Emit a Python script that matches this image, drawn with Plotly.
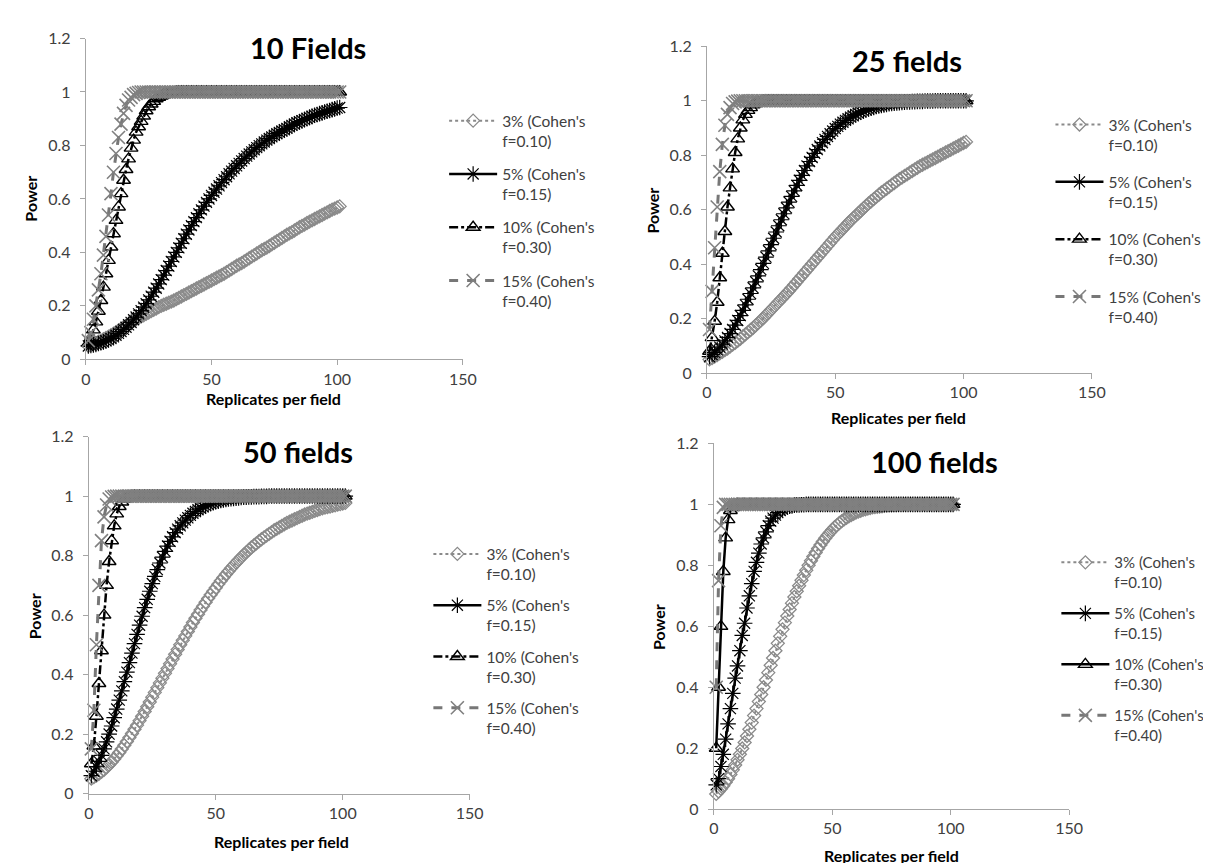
import plotly.graph_objects as go

# ---------------- data ----------------
X = list(range(1, 102))  # replicates per field
SERIES = ["3% (Cohen's<br>f=0.10)", "5% (Cohen's<br>f=0.15)",
          "10% (Cohen's<br>f=0.30)", "15% (Cohen's<br>f=0.40)"]
TITLES = ["10 Fields", "25 fields", "50 fields", "100 fields"]
X_TICKS = [0, 50, 100, 150]
Y_TICKS = [0, 0.2, 0.4, 0.6, 0.8, 1, 1.2]
Y_TICK_TEXT = ["0", "0.2", "0.4", "0.6", "0.8", "1", "1.2"]

# 10 fields
F10_3 = [0.050, 0.053, 0.057, 0.061, 0.066, 0.070, 0.075, 0.080, 0.085, 0.090,
         0.096, 0.102, 0.108, 0.114, 0.120, 0.126, 0.132, 0.138, 0.144, 0.150,
         0.155, 0.160, 0.165, 0.170, 0.175, 0.180, 0.185, 0.190, 0.195, 0.200,
         0.204, 0.208, 0.212, 0.216, 0.220, 0.225, 0.230, 0.235, 0.240, 0.245,
         0.250, 0.255, 0.260, 0.265, 0.270, 0.275, 0.280, 0.285, 0.290, 0.295,
         0.300, 0.305, 0.310, 0.315, 0.320, 0.326, 0.332, 0.338, 0.344, 0.350,
         0.355, 0.360, 0.366, 0.372, 0.378, 0.384, 0.390, 0.396, 0.402, 0.408,
         0.413, 0.418, 0.424, 0.430, 0.436, 0.442, 0.448, 0.454, 0.460, 0.466,
         0.471, 0.476, 0.482, 0.488, 0.494, 0.499, 0.504, 0.510, 0.515, 0.520,
         0.525, 0.530, 0.535, 0.540, 0.545, 0.550, 0.555, 0.560, 0.564, 0.568,
         0.572]
F10_5 = [0.050, 0.052, 0.054, 0.056, 0.059, 0.062, 0.065, 0.069, 0.073, 0.078,
         0.084, 0.090, 0.097, 0.104, 0.112, 0.120, 0.129, 0.138, 0.148, 0.158,
         0.170, 0.182, 0.195, 0.208, 0.222, 0.236, 0.251, 0.266, 0.282, 0.298,
         0.315, 0.332, 0.349, 0.366, 0.383, 0.400, 0.417, 0.434, 0.451, 0.468,
         0.484, 0.500, 0.515, 0.530, 0.545, 0.559, 0.573, 0.587, 0.600, 0.613,
         0.625, 0.637, 0.649, 0.661, 0.672, 0.683, 0.694, 0.704, 0.714, 0.724,
         0.733, 0.742, 0.751, 0.760, 0.768, 0.776, 0.784, 0.792, 0.799, 0.806,
         0.813, 0.820, 0.826, 0.832, 0.838, 0.844, 0.849, 0.854, 0.859, 0.864,
         0.870, 0.875, 0.880, 0.885, 0.889, 0.893, 0.897, 0.901, 0.905, 0.909,
         0.913, 0.916, 0.919, 0.922, 0.925, 0.928, 0.931, 0.934, 0.937, 0.940,
         0.942]
F10_10 = [0.06, 0.08, 0.11, 0.14, 0.18, 0.22, 0.27, 0.32, 0.37, 0.42,
          0.47, 0.52, 0.57, 0.62, 0.67, 0.71, 0.75, 0.79, 0.82, 0.85,
          0.87, 0.89, 0.91, 0.93, 0.945, 0.955, 0.965, 0.975, 0.98, 0.985,
          0.99, 0.993, 0.995, 0.997, 0.998, 0.999, 1.0, 1.0, 1.0, 1.0,
          1.0, 1.0, 1.0, 1.0, 1.0, 1.0, 1.0, 1.0, 1.0, 1.0,
          1.0, 1.0, 1.0, 1.0, 1.0, 1.0, 1.0, 1.0, 1.0, 1.0,
          1.0, 1.0, 1.0, 1.0, 1.0, 1.0, 1.0, 1.0, 1.0, 1.0,
          1.0, 1.0, 1.0, 1.0, 1.0, 1.0, 1.0, 1.0, 1.0, 1.0,
          1.0, 1.0, 1.0, 1.0, 1.0, 1.0, 1.0, 1.0, 1.0, 1.0,
          1.0, 1.0, 1.0, 1.0, 1.0, 1.0, 1.0, 1.0, 1.0, 1.0,
          1.0]
F10_15 = [0.07, 0.10, 0.15, 0.20, 0.26, 0.32, 0.39, 0.46, 0.54, 0.62,
          0.70, 0.77, 0.83, 0.88, 0.92, 0.95, 0.97, 0.98, 0.99, 0.995,
          0.998, 1.0, 1.0, 1.0, 1.0, 1.0, 1.0, 1.0, 1.0, 1.0,
          1.0, 1.0, 1.0, 1.0, 1.0, 1.0, 1.0, 1.0, 1.0, 1.0,
          1.0, 1.0, 1.0, 1.0, 1.0, 1.0, 1.0, 1.0, 1.0, 1.0,
          1.0, 1.0, 1.0, 1.0, 1.0, 1.0, 1.0, 1.0, 1.0, 1.0,
          1.0, 1.0, 1.0, 1.0, 1.0, 1.0, 1.0, 1.0, 1.0, 1.0,
          1.0, 1.0, 1.0, 1.0, 1.0, 1.0, 1.0, 1.0, 1.0, 1.0,
          1.0, 1.0, 1.0, 1.0, 1.0, 1.0, 1.0, 1.0, 1.0, 1.0,
          1.0, 1.0, 1.0, 1.0, 1.0, 1.0, 1.0, 1.0, 1.0, 1.0,
          1.0]

# 25 fields
F25_3 = [0.050, 0.055, 0.060, 0.066, 0.072, 0.078, 0.084, 0.090, 0.097, 0.104,
         0.111, 0.118, 0.126, 0.134, 0.142, 0.150, 0.158, 0.166, 0.175, 0.184,
         0.193, 0.202, 0.212, 0.222, 0.232, 0.242, 0.252, 0.262, 0.272, 0.282,
         0.292, 0.302, 0.313, 0.324, 0.335, 0.346, 0.357, 0.368, 0.379, 0.390,
         0.401, 0.412, 0.423, 0.434, 0.445, 0.456, 0.467, 0.478, 0.489, 0.500,
         0.510, 0.520, 0.530, 0.540, 0.550, 0.560, 0.569, 0.578, 0.587, 0.596,
         0.605, 0.614, 0.623, 0.631, 0.639, 0.647, 0.655, 0.663, 0.670, 0.677,
         0.684, 0.691, 0.698, 0.705, 0.712, 0.718, 0.724, 0.730, 0.736, 0.742,
         0.748, 0.754, 0.760, 0.765, 0.770, 0.775, 0.780, 0.785, 0.790, 0.795,
         0.800, 0.805, 0.810, 0.815, 0.820, 0.825, 0.830, 0.835, 0.840, 0.845,
         0.849]
F25_5 = [0.060, 0.068, 0.076, 0.085, 0.095, 0.106, 0.118, 0.131, 0.145, 0.160,
         0.176, 0.193, 0.211, 0.230, 0.250, 0.271, 0.292, 0.313, 0.335, 0.357,
         0.380, 0.403, 0.426, 0.449, 0.472, 0.495, 0.518, 0.541, 0.563, 0.585,
         0.607, 0.628, 0.649, 0.669, 0.689, 0.708, 0.726, 0.744, 0.761, 0.777,
         0.792, 0.807, 0.821, 0.834, 0.846, 0.858, 0.869, 0.879, 0.889, 0.898,
         0.906, 0.914, 0.921, 0.928, 0.934, 0.940, 0.945, 0.950, 0.955, 0.959,
         0.963, 0.967, 0.970, 0.973, 0.976, 0.979, 0.981, 0.983, 0.985, 0.987,
         0.989, 0.990, 0.991, 0.992, 0.993, 0.994, 0.995, 0.996, 0.996, 0.997,
         0.997, 0.998, 0.998, 0.998, 0.999, 0.999, 0.999, 0.999, 1.0, 1.0,
         1.0, 1.0, 1.0, 1.0, 1.0, 1.0, 1.0, 1.0, 1.0, 1.0,
         1.0]
F25_10 = [0.08, 0.13, 0.19, 0.26, 0.35, 0.44, 0.52, 0.61, 0.68, 0.75,
          0.81, 0.86, 0.90, 0.93, 0.95, 0.965, 0.975, 0.985, 0.99, 0.995,
          0.997, 0.999, 1.0, 1.0, 1.0, 1.0, 1.0, 1.0, 1.0, 1.0,
          1.0, 1.0, 1.0, 1.0, 1.0, 1.0, 1.0, 1.0, 1.0, 1.0,
          1.0, 1.0, 1.0, 1.0, 1.0, 1.0, 1.0, 1.0, 1.0, 1.0,
          1.0, 1.0, 1.0, 1.0, 1.0, 1.0, 1.0, 1.0, 1.0, 1.0,
          1.0, 1.0, 1.0, 1.0, 1.0, 1.0, 1.0, 1.0, 1.0, 1.0,
          1.0, 1.0, 1.0, 1.0, 1.0, 1.0, 1.0, 1.0, 1.0, 1.0,
          1.0, 1.0, 1.0, 1.0, 1.0, 1.0, 1.0, 1.0, 1.0, 1.0,
          1.0, 1.0, 1.0, 1.0, 1.0, 1.0, 1.0, 1.0, 1.0, 1.0,
          1.0]
F25_15 = [0.16, 0.30, 0.46, 0.61, 0.74, 0.84, 0.91, 0.95, 0.975, 0.99,
          0.996, 0.999, 1.0, 1.0, 1.0, 1.0, 1.0, 1.0, 1.0, 1.0,
          1.0, 1.0, 1.0, 1.0, 1.0, 1.0, 1.0, 1.0, 1.0, 1.0,
          1.0, 1.0, 1.0, 1.0, 1.0, 1.0, 1.0, 1.0, 1.0, 1.0,
          1.0, 1.0, 1.0, 1.0, 1.0, 1.0, 1.0, 1.0, 1.0, 1.0,
          1.0, 1.0, 1.0, 1.0, 1.0, 1.0, 1.0, 1.0, 1.0, 1.0,
          1.0, 1.0, 1.0, 1.0, 1.0, 1.0, 1.0, 1.0, 1.0, 1.0,
          1.0, 1.0, 1.0, 1.0, 1.0, 1.0, 1.0, 1.0, 1.0, 1.0,
          1.0, 1.0, 1.0, 1.0, 1.0, 1.0, 1.0, 1.0, 1.0, 1.0,
          1.0, 1.0, 1.0, 1.0, 1.0, 1.0, 1.0, 1.0, 1.0, 1.0,
          1.0]

# 50 fields
F50_3 = [0.050, 0.055, 0.060, 0.066, 0.073, 0.080, 0.088, 0.097, 0.106, 0.116,
         0.127, 0.138, 0.150, 0.162, 0.175, 0.188, 0.202, 0.216, 0.230, 0.245,
         0.260, 0.276, 0.292, 0.308, 0.324, 0.340, 0.356, 0.372, 0.388, 0.404,
         0.420, 0.436, 0.452, 0.468, 0.484, 0.500, 0.515, 0.530, 0.545, 0.560,
         0.575, 0.589, 0.603, 0.617, 0.630, 0.643, 0.656, 0.668, 0.680, 0.692,
         0.704, 0.715, 0.726, 0.737, 0.747, 0.757, 0.767, 0.776, 0.785, 0.794,
         0.803, 0.811, 0.819, 0.827, 0.834, 0.841, 0.848, 0.855, 0.861, 0.867,
         0.873, 0.879, 0.885, 0.890, 0.895, 0.900, 0.905, 0.910, 0.914, 0.918,
         0.922, 0.926, 0.930, 0.934, 0.938, 0.941, 0.944, 0.947, 0.950, 0.953,
         0.956, 0.959, 0.961, 0.963, 0.965, 0.967, 0.969, 0.971, 0.973, 0.975,
         0.977]
F50_5 = [0.060, 0.075, 0.090, 0.108, 0.128, 0.150, 0.174, 0.200, 0.227, 0.255,
         0.284, 0.314, 0.345, 0.376, 0.408, 0.440, 0.472, 0.504, 0.535, 0.566,
         0.596, 0.625, 0.653, 0.680, 0.706, 0.730, 0.753, 0.775, 0.795, 0.814,
         0.832, 0.848, 0.863, 0.877, 0.889, 0.900, 0.910, 0.919, 0.927, 0.935,
         0.942, 0.948, 0.954, 0.959, 0.964, 0.968, 0.972, 0.975, 0.978, 0.981,
         0.983, 0.985, 0.987, 0.989, 0.990, 0.991, 0.992, 0.993, 0.994, 0.995,
         0.996, 0.996, 0.997, 0.997, 0.998, 0.998, 0.998, 0.999, 0.999, 0.999,
         1.0, 1.0, 1.0, 1.0, 1.0, 1.0, 1.0, 1.0, 1.0, 1.0,
         1.0, 1.0, 1.0, 1.0, 1.0, 1.0, 1.0, 1.0, 1.0, 1.0,
         1.0, 1.0, 1.0, 1.0, 1.0, 1.0, 1.0, 1.0, 1.0, 1.0,
         1.0]
F50_10 = [0.10, 0.16, 0.26, 0.37, 0.48, 0.60, 0.70, 0.78, 0.85, 0.90,
          0.94, 0.965, 0.98, 0.99, 0.995, 0.998, 1.0, 1.0, 1.0, 1.0,
          1.0, 1.0, 1.0, 1.0, 1.0, 1.0, 1.0, 1.0, 1.0, 1.0,
          1.0, 1.0, 1.0, 1.0, 1.0, 1.0, 1.0, 1.0, 1.0, 1.0,
          1.0, 1.0, 1.0, 1.0, 1.0, 1.0, 1.0, 1.0, 1.0, 1.0,
          1.0, 1.0, 1.0, 1.0, 1.0, 1.0, 1.0, 1.0, 1.0, 1.0,
          1.0, 1.0, 1.0, 1.0, 1.0, 1.0, 1.0, 1.0, 1.0, 1.0,
          1.0, 1.0, 1.0, 1.0, 1.0, 1.0, 1.0, 1.0, 1.0, 1.0,
          1.0, 1.0, 1.0, 1.0, 1.0, 1.0, 1.0, 1.0, 1.0, 1.0,
          1.0, 1.0, 1.0, 1.0, 1.0, 1.0, 1.0, 1.0, 1.0, 1.0,
          1.0]
F50_15 = [0.15, 0.28, 0.50, 0.70, 0.85, 0.93, 0.97, 0.99, 0.997, 0.999,
          1.0, 1.0, 1.0, 1.0, 1.0, 1.0, 1.0, 1.0, 1.0, 1.0,
          1.0, 1.0, 1.0, 1.0, 1.0, 1.0, 1.0, 1.0, 1.0, 1.0,
          1.0, 1.0, 1.0, 1.0, 1.0, 1.0, 1.0, 1.0, 1.0, 1.0,
          1.0, 1.0, 1.0, 1.0, 1.0, 1.0, 1.0, 1.0, 1.0, 1.0,
          1.0, 1.0, 1.0, 1.0, 1.0, 1.0, 1.0, 1.0, 1.0, 1.0,
          1.0, 1.0, 1.0, 1.0, 1.0, 1.0, 1.0, 1.0, 1.0, 1.0,
          1.0, 1.0, 1.0, 1.0, 1.0, 1.0, 1.0, 1.0, 1.0, 1.0,
          1.0, 1.0, 1.0, 1.0, 1.0, 1.0, 1.0, 1.0, 1.0, 1.0,
          1.0, 1.0, 1.0, 1.0, 1.0, 1.0, 1.0, 1.0, 1.0, 1.0,
          1.0]

# 100 fields
F100_3 = [0.050, 0.058, 0.067, 0.077, 0.088, 0.100, 0.114, 0.129, 0.145, 0.162,
          0.180, 0.199, 0.219, 0.240, 0.262, 0.284, 0.307, 0.330, 0.353, 0.376,
          0.400, 0.424, 0.448, 0.472, 0.496, 0.520, 0.544, 0.567, 0.590, 0.612,
          0.634, 0.655, 0.676, 0.696, 0.715, 0.733, 0.751, 0.768, 0.784, 0.800,
          0.815, 0.829, 0.842, 0.855, 0.867, 0.878, 0.889, 0.899, 0.908, 0.917,
          0.925, 0.932, 0.939, 0.945, 0.951, 0.956, 0.961, 0.965, 0.969, 0.973,
          0.976, 0.979, 0.982, 0.984, 0.986, 0.988, 0.990, 0.991, 0.992, 0.993,
          0.994, 0.995, 0.996, 0.997, 0.997, 0.998, 0.998, 0.999, 0.999, 0.999,
          1.0, 1.0, 1.0, 1.0, 1.0, 1.0, 1.0, 1.0, 1.0, 1.0,
          1.0, 1.0, 1.0, 1.0, 1.0, 1.0, 1.0, 1.0, 1.0, 1.0,
          1.0]
F100_5 = [0.08, 0.10, 0.14, 0.18, 0.23, 0.28, 0.33, 0.38, 0.43, 0.47,
          0.52, 0.57, 0.61, 0.66, 0.70, 0.74, 0.78, 0.81, 0.84, 0.87,
          0.89, 0.91, 0.93, 0.945, 0.955, 0.965, 0.973, 0.98, 0.985, 0.99,
          0.992, 0.994, 0.995, 0.997, 0.998, 0.998, 0.999, 0.999, 1.0, 1.0,
          1.0, 1.0, 1.0, 1.0, 1.0, 1.0, 1.0, 1.0, 1.0, 1.0,
          1.0, 1.0, 1.0, 1.0, 1.0, 1.0, 1.0, 1.0, 1.0, 1.0,
          1.0, 1.0, 1.0, 1.0, 1.0, 1.0, 1.0, 1.0, 1.0, 1.0,
          1.0, 1.0, 1.0, 1.0, 1.0, 1.0, 1.0, 1.0, 1.0, 1.0,
          1.0, 1.0, 1.0, 1.0, 1.0, 1.0, 1.0, 1.0, 1.0, 1.0,
          1.0, 1.0, 1.0, 1.0, 1.0, 1.0, 1.0, 1.0, 1.0, 1.0,
          1.0]
F100_10 = [0.20, 0.40, 0.60, 0.78, 0.89, 0.95, 0.98, 0.99, 0.997, 1.0,
           1.0, 1.0, 1.0, 1.0, 1.0, 1.0, 1.0, 1.0, 1.0, 1.0,
           1.0, 1.0, 1.0, 1.0, 1.0, 1.0, 1.0, 1.0, 1.0, 1.0,
           1.0, 1.0, 1.0, 1.0, 1.0, 1.0, 1.0, 1.0, 1.0, 1.0,
           1.0, 1.0, 1.0, 1.0, 1.0, 1.0, 1.0, 1.0, 1.0, 1.0,
           1.0, 1.0, 1.0, 1.0, 1.0, 1.0, 1.0, 1.0, 1.0, 1.0,
           1.0, 1.0, 1.0, 1.0, 1.0, 1.0, 1.0, 1.0, 1.0, 1.0,
           1.0, 1.0, 1.0, 1.0, 1.0, 1.0, 1.0, 1.0, 1.0, 1.0,
           1.0, 1.0, 1.0, 1.0, 1.0, 1.0, 1.0, 1.0, 1.0, 1.0,
           1.0, 1.0, 1.0, 1.0, 1.0, 1.0, 1.0, 1.0, 1.0, 1.0,
           1.0]
F100_15 = [0.40, 0.75, 0.93, 0.99, 1.0, 1.0, 1.0, 1.0, 1.0, 1.0,
           1.0, 1.0, 1.0, 1.0, 1.0, 1.0, 1.0, 1.0, 1.0, 1.0,
           1.0, 1.0, 1.0, 1.0, 1.0, 1.0, 1.0, 1.0, 1.0, 1.0,
           1.0, 1.0, 1.0, 1.0, 1.0, 1.0, 1.0, 1.0, 1.0, 1.0,
           1.0, 1.0, 1.0, 1.0, 1.0, 1.0, 1.0, 1.0, 1.0, 1.0,
           1.0, 1.0, 1.0, 1.0, 1.0, 1.0, 1.0, 1.0, 1.0, 1.0,
           1.0, 1.0, 1.0, 1.0, 1.0, 1.0, 1.0, 1.0, 1.0, 1.0,
           1.0, 1.0, 1.0, 1.0, 1.0, 1.0, 1.0, 1.0, 1.0, 1.0,
           1.0, 1.0, 1.0, 1.0, 1.0, 1.0, 1.0, 1.0, 1.0, 1.0,
           1.0, 1.0, 1.0, 1.0, 1.0, 1.0, 1.0, 1.0, 1.0, 1.0,
           1.0]

PANEL_DATA = [
    [F10_3, F10_5, F10_10, F10_15],
    [F25_3, F25_5, F25_10, F25_15],
    [F50_3, F50_5, F50_10, F50_15],
    [F100_3, F100_5, F100_10, F100_15],
]

# ---------------- layout (pixels) ----------------
W, H = 1211, 863
FONT = "Lato, 'Open Sans', sans-serif"
TICK_COLOR = "#404040"
AXIS_COLOR = "#a6a6a6"
GRAY = "#8a8a8a"
XGRAY = "#808080"


def fx(p):
    return p / W


def fy(p):
    return 1 - p / H


# plot box: (x_left, x_right, y_top, y_bottom)
PANELS = [
    dict(box=(74, 457, 21, 349), title=(300, 30), xt=(265, 389), yt=(18, 185),
         leg=(438, 88), gap=10, lfont=15.5, dash10="dashdot"),
    dict(box=(705, 1096, 29, 363), title=(908, 43), xt=(900, 409), yt=(650, 197),
         leg=(1054, 92), gap=14, lfont=15.5, dash10="dashdot"),
    dict(box=(77, 464, 428, 793), title=(290, 443), xt=(273, 842), yt=(22, 612),
         leg=(422, 531), gap=8, lfont=15.5, dash10="dashdot"),
    dict(box=(712, 1073, 435, 809), title=(936, 453), xt=(892, 856), yt=(656, 623),
         leg=(1060, 540), gap=9, lfont=15, dash10="solid"),
]

fig = go.Figure()
annotations = []
layout_axes = {}

for i, (panel, data) in enumerate(zip(PANELS, PANEL_DATA)):
    n = "" if i == 0 else str(i + 1)
    xa, ya = "x" + n, "y" + n
    leg = "legend" if i == 0 else "legend" + str(i + 1)
    styles = [
        dict(line=dict(color=GRAY, width=2, dash="dot"),
             marker=dict(symbol="diamond-open", size=10, color=GRAY,
                         line=dict(color=GRAY, width=1.3))),
        dict(line=dict(color="black", width=2.5, dash="solid"),
             marker=dict(symbol="asterisk-open", size=13, color="black",
                         line=dict(color="black", width=1.2))),
        dict(line=dict(color="black", width=2.5, dash=panel["dash10"]),
             marker=dict(symbol="triangle-up-open", size=12, color="black",
                         line=dict(color="black", width=1.4))),
        dict(line=dict(color="#777777", width=3, dash="dash"),
             marker=dict(symbol="x-thin-open", size=13, color=XGRAY,
                         line=dict(color=XGRAY, width=1.6))),
    ]
    for j, (name, ys) in enumerate(zip(SERIES, data)):
        fig.add_trace(go.Scatter(
            x=X, y=ys, name=name, mode="lines+markers",
            xaxis=xa, yaxis=ya, legend=leg, legendgroup=f"p{i}s{j}",
            cliponaxis=False, **styles[j]))

    x0, x1, yt0, yb0 = panel["box"]
    layout_axes["xaxis" + n] = dict(
        domain=[fx(x0), fx(x1)], range=[0, 150], anchor=ya,
        tickvals=X_TICKS, ticktext=[str(v) for v in X_TICKS],
        showline=True, linecolor=AXIS_COLOR, linewidth=1,
        ticks="outside", ticklen=5, tickcolor=AXIS_COLOR,
        showgrid=False, zeroline=False, ticklabelstandoff=0,
        tickfont=dict(family=FONT, size=16, color=TICK_COLOR))
    layout_axes["yaxis" + n] = dict(
        domain=[fy(yb0), fy(yt0)], range=[0, 1.2], anchor=xa,
        tickvals=Y_TICKS, ticktext=Y_TICK_TEXT,
        showline=True, linecolor=AXIS_COLOR, linewidth=1,
        ticks="outside", ticklen=5, tickcolor=AXIS_COLOR,
        showgrid=False, zeroline=False, ticklabelstandoff=6,
        tickfont=dict(family=FONT, size=16, color=TICK_COLOR))
    lx, ly = panel["leg"]
    layout_axes[leg] = dict(
        x=fx(lx), y=fy(ly), xanchor="left", yanchor="top",
        bgcolor="rgba(0,0,0,0)", borderwidth=0, itemwidth=48,
        valign="top", tracegroupgap=panel["gap"], traceorder="grouped",
        font=dict(family=FONT, size=panel["lfont"], color=TICK_COLOR))

    tx, ty = panel["title"]
    annotations.append(dict(
        text=TITLES[i], x=fx(tx), y=fy(ty), xref="paper", yref="paper",
        showarrow=False, xanchor="center", yanchor="middle",
        font=dict(family=FONT, size=29, color="black", weight="bold")))
    ax_, ay_ = panel["xt"]
    annotations.append(dict(
        text="Replicates per field", x=fx(ax_), y=fy(ay_), xref="paper",
        yref="paper", showarrow=False, xanchor="center", yanchor="middle",
        font=dict(family=FONT, size=16, color="black", weight="bold")))
    px_, py_ = panel["yt"]
    annotations.append(dict(
        text="Power", x=fx(px_), y=fy(py_), xref="paper", yref="paper",
        showarrow=False, xanchor="center", yanchor="middle", textangle=-90,
        font=dict(family=FONT, size=16, color="black", weight="bold")))

fig.update_layout(
    width=W, height=H, margin=dict(l=0, r=0, t=0, b=0),
    paper_bgcolor="white", plot_bgcolor="white",
    showlegend=True, annotations=annotations, **layout_axes)

fig.write_html("out.html")
